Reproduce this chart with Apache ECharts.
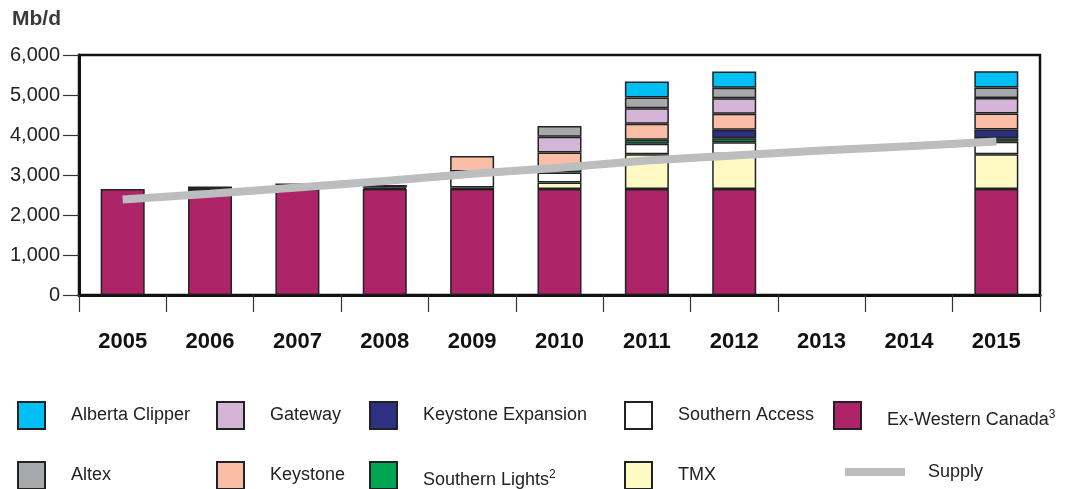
<!DOCTYPE html>
<html>
<head>
<meta charset="utf-8">
<script src="https://cdn.jsdelivr.net/npm/echarts@6/dist/echarts.min.js"></script>
<style>
    html, body { margin: 0; padding: 0; background: #fff; }
    #chart { width: 1074px; height: 489px; }
</style>
</head>
<body>
<div id="chart"></div>
<script>
// data (Mb/d)
const years = ['2005', '2006', '2007', '2008', '2009', '2010', '2011', '2012', '2013', '2014', '2015'];
const yTicks = [0, 1000, 2000, 3000, 4000, 5000, 6000];

const exWestern = [2650, 2650, 2650, 2650, 2650, 2650, 2650, 2650, null, null, 2650];
const tmx = [null, null, null, 30, 40, 165, 870, 870, null, null, 870];
const southernAccess = [null, 60, 140, 70, 395, 250, 260, 300, null, null, 310];
const southernLights = [null, null, null, null, null, 100, 100, 100, null, null, 90];
const keystoneExp = [null, null, null, null, null, null, null, 210, null, null, 215];
const keystone = [null, null, null, null, 390, 400, 400, 400, null, null, 400];
const gateway = [null, null, null, null, null, 390, 390, 390, null, null, 390];
const altex = [null, null, null, null, null, 270, 265, 260, null, null, 260];
const clipper = [null, null, null, null, null, null, 400, 410, null, null, 410];
const supply = [2390, 2530, 2690, 2850, 3030, 3180, 3360, 3490, 3610, 3720, 3840];

const FONT = '"Liberation Sans", Arial, sans-serif';

// stacking order, bottom to top
const stacks = [
    { name: 'Ex-Western Canada', data: exWestern, color: '#ae2468' },
    { name: 'TMX', data: tmx, color: '#fff9c4' },
    { name: 'Southern Access', data: southernAccess, color: '#ffffff' },
    { name: 'Southern Lights', data: southernLights, color: '#00a651' },
    { name: 'Keystone Expansion', data: keystoneExp, color: '#2e3182' },
    { name: 'Keystone', data: keystone, color: '#f9bea5' },
    { name: 'Gateway', data: gateway, color: '#d4b4d7' },
    { name: 'Altex', data: altex, color: '#a7a8ab' },
    { name: 'Alberta Clipper', data: clipper, color: '#00bff2' }
];

const series = stacks.map(s => ({
    name: s.name,
    type: 'bar',
    stack: 'pipes',
    barWidth: 44,
    data: s.data,
    itemStyle: { color: s.color, borderColor: '#222', borderWidth: 1.5 },
    emphasis: { disabled: true }
}));

series.push({
    name: 'Supply',
    type: 'line',
    data: supply,
    symbol: 'none',
    z: 5,
    itemStyle: { color: '#bcbdbf' },
    lineStyle: { color: '#bcbdbf', width: 8, cap: 'butt' },
    emphasis: { disabled: true }
});

const textBase = { fontFamily: FONT, fontSize: 18, color: '#222' };
const supRich = {
    sup: { fontFamily: FONT, fontSize: 12, color: '#222', verticalAlign: 'top', padding: [0, 0, 12, 0] }
};

// legend slots: [name, left, top, label]  (legend box has 5px padding)
const legendSlots = [
    ['Alberta Clipper', 12, 396, 'Alberta Clipper'],
    ['Gateway', 211, 396, 'Gateway'],
    ['Keystone Expansion', 364, 396, 'Keystone Expansion'],
    ['Southern Access', 619, 396, 'Southern Access'],
    ['Ex-Western Canada', 828, 396, 'Ex-Western Canada{sup|3}'],
    ['Altex', 12, 456, 'Altex'],
    ['Keystone', 211, 456, 'Keystone'],
    ['Southern Lights', 364, 456, 'Southern Lights{sup|2}'],
    ['TMX', 619, 456, 'TMX']
];

const legends = legendSlots.map(l => ({
    data: [{ name: l[0], icon: 'rect' }],
    left: l[1],
    top: l[2],
    itemWidth: 27,
    itemHeight: 27,
    selectedMode: false,
    formatter: () => l[3],
    textStyle: Object.assign({}, textBase, {
        padding: l[3].indexOf('{sup') >= 0 ? [10, 0, 0, 21] : [0, 0, 0, 21],
        rich: supRich
    })
}));

legends.push({
    data: [{ name: 'Supply', icon: 'rect' }],
    left: 840,
    top: 458,
    itemWidth: 60,
    itemHeight: 8,
    selectedMode: false,
    textStyle: Object.assign({}, textBase, { padding: [0, 0, 0, 18] })
});

const chart = echarts.init(document.getElementById('chart'), null, { renderer: 'canvas' });
chart.setOption({
    animation: false,
    backgroundColor: '#fff',
    title: {
        text: 'Mb/d',
        left: 7,
        top: 4,
        textStyle: { fontFamily: FONT, fontSize: 21, fontWeight: 'bold', color: '#3a3a3a' }
    },
    legend: legends,
    grid: {
        left: 79, right: 34, top: 55, bottom: 194,
        show: true, borderColor: '#111', borderWidth: 2.5,
        containLabel: false
    },
    xAxis: {
        type: 'category',
        data: years,
        axisLine: { lineStyle: { color: '#111', width: 3 } },
        axisTick: { show: true, inside: false, length: 17, interval: 0, lineStyle: { color: '#333', width: 1.2 } },
        axisLabel: {
            interval: 0, margin: 36,
            fontFamily: FONT, fontSize: 22, fontWeight: 'bold', color: '#111'
        }
    },
    yAxis: {
        type: 'value',
        min: yTicks[0],
        max: yTicks[yTicks.length - 1],
        interval: 1000,
        splitLine: { show: false },
        axisLine: { show: true, lineStyle: { color: '#111', width: 3 } },
        axisTick: { show: true, inside: false, length: 16, lineStyle: { color: '#333', width: 1.2 } },
        axisLabel: {
            margin: 19,
            fontFamily: FONT, fontSize: 20, color: '#222',
            formatter: v => v.toLocaleString('en-US')
        }
    },
    series: series
});
</script>
</body>
</html>
